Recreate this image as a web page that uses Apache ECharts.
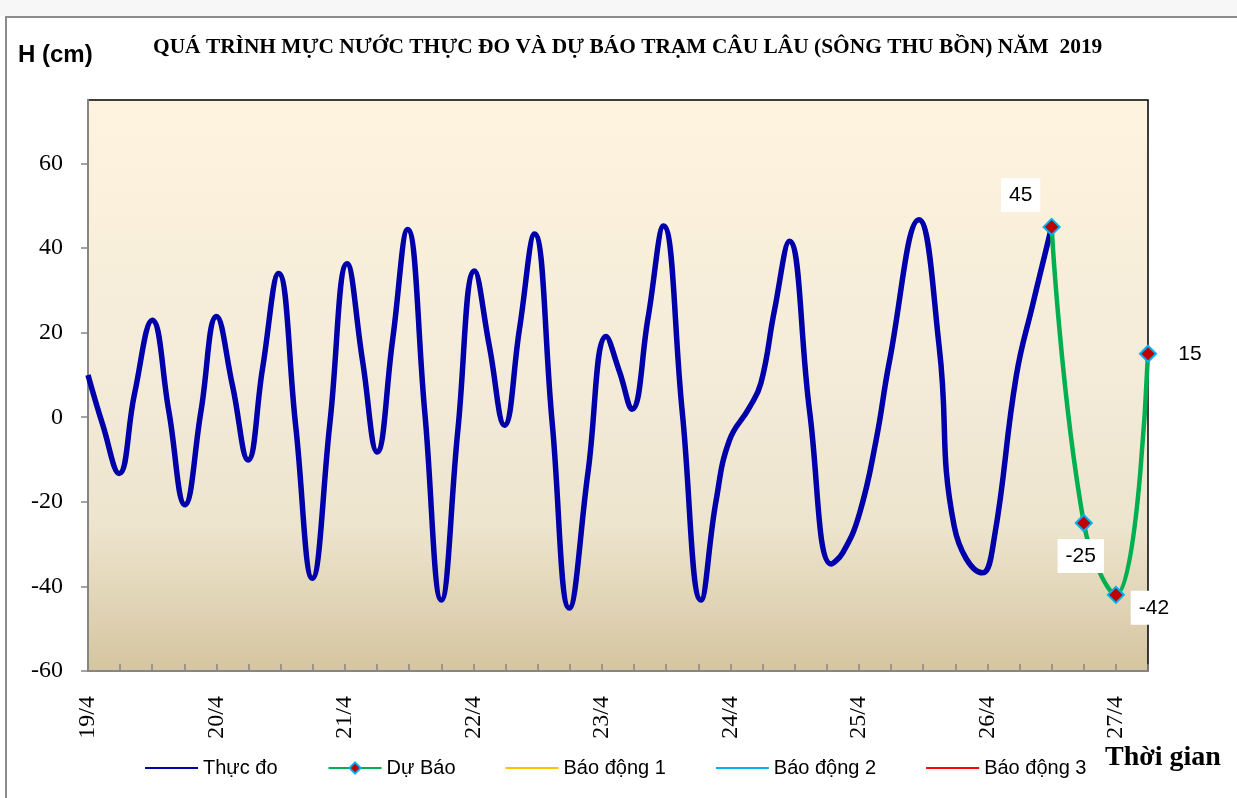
<!DOCTYPE html>
<html>
<head>
<meta charset="utf-8">
<script src="https://cdn.jsdelivr.net/npm/echarts@6/dist/echarts.min.js"></script>
<style>
html,body{margin:0;padding:0;background:#fff;}
#chart{width:1237px;height:798px;}
</style>
</head>
<body>
<div id="chart"></div>
<script>
// Tick labels (one per day, x axis in hours from 19/4 00h)
var dayLabels = ['19/4','20/4','21/4','22/4','23/4','24/4','25/4','26/4','27/4'];
// Observed water level (Thực đo): hour since 19/4 00h, value (cm)
var obsHours = [0,2.8,5.8,8.7,12,15.1,18.1,21.1,24,27,29.9,32.6,35.6,38.8,41.9,45.2,48.4,51.3,54,56.9,59.7,62.9,66,69.1,72.2,75,77.8,80.6,83.4,86.7,89.9,93.4,96.8,99.3,101.6,104.6,107.5,111,114.5,117.3,119.8,123.5,125.7,128.2,131,134.8,138.8,141,144.1,147.2,149.7,155.2,159,161.8,167.1,169.3,173.4,176.5,180];
var obsValues = [10,-2,-13.3,5.6,22.9,1.4,-20.7,1.4,23.8,7.4,-10.1,11.5,34,-2.1,-38.1,-1.2,36.3,13.2,-8.2,18.3,44.4,1.3,-43.2,-2.9,34.6,16.6,-1.9,20.9,43.3,-1.2,-45.1,-13,19.1,10.7,1.9,23.4,45.2,1.3,-43.2,-19.9,-5.5,2.2,8.1,25.1,41.6,1.3,-34.7,-32,-22.8,-5.5,13.2,46.7,16.6,-25.8,-36.8,-28.4,9.8,26.8,45];
// Forecast (Dự Báo)
var fcHours = [180,186,192,198];
var fcValues = [45,-25,-42,15];
// Alarm levels (not within the displayed range)
var alarm1 = [];
var alarm2 = [];
var alarm3 = [];

var chart = echarts.init(document.getElementById('chart'), null, {renderer:'canvas'});

function pairs(xs, ys){ return xs.map(function(x,i){ return [x, ys[i]]; }); }

var fcLabelOffsets = [[-31,-32],[-3,33],[38,13],[42,0]];
var fcData = pairs(fcHours, fcValues).map(function(p, i){
  var boxed = i < 3;
  return {
    value: p,
    label: {
      show: true,
      position: 'inside',
      offset: fcLabelOffsets[i],
      formatter: String(p[1]),
      color: '#000',
      fontFamily: '"Liberation Sans", Arial, sans-serif',
      fontSize: 21,
      backgroundColor: boxed ? '#fff' : 'transparent',
      padding: [7, 8, 6, 8]
    }
  };
});

// line icon centred in a 14px-high legend box
var lineIcon = 'path://M0,0L0.01,0L0,0.01Z M0,5.3L100,5.3L100,8.7L0,8.7Z M0,13.99L0.01,14L0,14Z';
function legendLine(name, color){
  return { name: name, icon: lineIcon, itemStyle: { color: color, borderWidth: 0 } };
}

var option = {
  animation: false,
  backgroundColor: '#fff',
  graphic: [
    { type:'rect', shape:{x:0,y:0,width:1237,height:16}, style:{fill:'#f7f7f7'}, silent:true },
    { type:'rect', shape:{x:6,y:17,width:1240,height:800}, style:{fill:'none', stroke:'#8c8c8c', lineWidth:2}, silent:true },
    { type:'text', left:18, top:43, style:{ text:'H (cm)', font:'bold 24px "Liberation Sans", Arial, sans-serif', fill:'#000' } },
    { type:'text', left:1105, top:744, style:{ text:'Thời gian', font:'bold 28px "Liberation Serif", "Times New Roman", serif', fill:'#000' } }
  ],
  title: {
    text: 'QUÁ TRÌNH MỰC NƯỚC THỰC ĐO VÀ DỰ BÁO TRẠM CÂU LÂU (SÔNG THU BỒN) NĂM  2019',
    left: 153,
    top: 37,
    padding: 0,
    textStyle: { fontFamily: '"Liberation Serif", "Times New Roman", serif', fontWeight: 'bold', fontSize: 21.4, color: '#000' }
  },
  legend: {
    left: 145,
    top: 758,
    padding: 0,
    itemWidth: 53,
    itemHeight: 14,
    itemGap: 50,
    textStyle: { fontFamily: '"Liberation Sans", Arial, sans-serif', fontSize: 20, color: '#000' },
    data: [
      legendLine('Thực đo', '#0000AA'),
      { name: 'Dự Báo' },
      legendLine('Báo động 1', '#FFC000'),
      legendLine('Báo động 2', '#00B0F0'),
      legendLine('Báo động 3', '#FF0000')
    ]
  },
  grid: {
    left: 88, right: 89, top: 100, bottom: 127,
    show: true,
    borderColor: '#000',
    borderWidth: 1.5,
    backgroundColor: new echarts.graphic.LinearGradient(0,0,0,1,[
      {offset:0, color:'#FEF3DE'},
      {offset:0.5, color:'#F3EBD8'},
      {offset:0.75, color:'#EDE4CD'},
      {offset:1, color:'#D5C5A0'}
    ])
  },
  xAxis: {
    type: 'value',
    min: 0,
    max: 198,
    interval: 6,
    axisLine: { show:true, onZero:false, lineStyle:{ color:'#868686', width:2 } },
    axisTick: { show:true, inside:true, length:7, lineStyle:{ color:'#868686', width:1.5 } },
    splitLine: { show:false },
    axisLabel: {
      rotate: 90,
      margin: 25,
      fontFamily: '"Liberation Serif", "Times New Roman", serif',
      fontSize: 24,
      color: '#000',
      showMinLabel: true,
      showMaxLabel: true,
      formatter: function(v){ return (v % 24 === 0) ? (dayLabels[v/24] || '') : ''; }
    }
  },
  yAxis: {
    type: 'value',
    min: -60,
    max: 75,
    interval: 20,
    axisLine: { show:true, onZero:false, lineStyle:{ color:'#868686', width:2 } },
    axisTick: { show:true, length:7, lineStyle:{ color:'#868686', width:1.5 } },
    splitLine: { show:false },
    axisLabel: {
      margin: 25,
      showMaxLabel: false,
      fontFamily: '"Liberation Serif", "Times New Roman", serif',
      fontSize: 24,
      color: '#000'
    }
  },
  series: [
    {
      name: 'Thực đo',
      type: 'line',
      data: pairs(obsHours, obsValues),
      smooth: 0.45,
      showSymbol: false,
      symbol: 'none',
      lineStyle: { color:'#0000AA', width:5.5 },
      itemStyle: { color:'#0000AA' },
      z: 3
    },
    {
      name: 'Dự Báo',
      type: 'line',
      data: fcData,
      smooth: 0.45,
      symbol: 'diamond',
      symbolSize: 16,
      lineStyle: { color:'#00B050', width:4.5 },
      itemStyle: { color:'#C00000', borderColor:'#00B0F0', borderWidth:2 },
      z: 4
    },
    { name:'Báo động 1', type:'line', data: alarm1, lineStyle:{color:'#FFC000', width:2}, itemStyle:{color:'#FFC000'}, symbol:'none' },
    { name:'Báo động 2', type:'line', data: alarm2, lineStyle:{color:'#00B0F0', width:2}, itemStyle:{color:'#00B0F0'}, symbol:'none' },
    { name:'Báo động 3', type:'line', data: alarm3, lineStyle:{color:'#FF0000', width:2}, itemStyle:{color:'#FF0000'}, symbol:'none' }
  ]
};
chart.setOption(option);
</script>
</body>
</html>
